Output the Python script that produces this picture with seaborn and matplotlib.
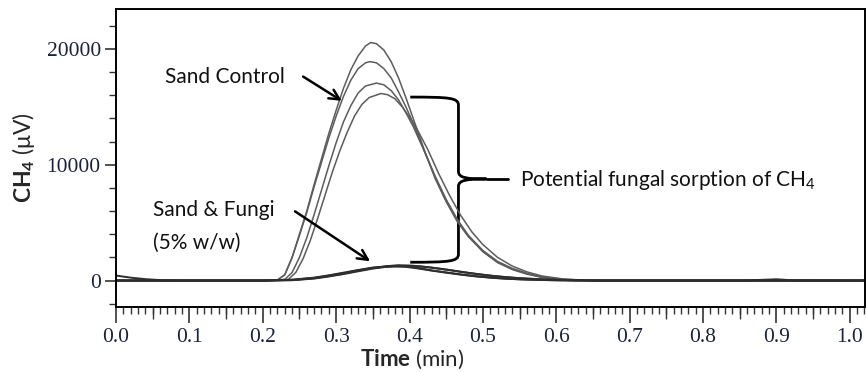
import numpy as np
import pandas as pd
import matplotlib
matplotlib.use("Agg")
import matplotlib.pyplot as plt
from matplotlib.path import Path
from matplotlib.patches import PathPatch
import seaborn as sns

# ---------------- data ----------------
ctrl_a_t = [0.0, 0.1, 0.2, 0.22, 0.23, 0.24, 0.25, 0.26, 0.27, 0.28, 0.29, 0.30, 0.31, 0.32, 0.33, 0.34,
            0.347, 0.355, 0.365, 0.375, 0.385, 0.395, 0.405, 0.42, 0.435, 0.45, 0.465, 0.48, 0.50,
            0.52, 0.54, 0.56, 0.58, 0.61, 0.65, 0.8, 1.02]
ctrl_a_y = [0, 0, 0, 50, 500, 2000, 4000, 6000, 8300, 10500, 12700, 14700, 16600, 18200, 19400, 20250,
            20550, 20450, 19900, 18900, 17500, 15800, 14000, 11300, 8800, 6800, 5100, 3800, 2500,
            1600, 1000, 600, 300, 100, 0, 0, 0]

ctrl_b_t = [0.0, 0.1, 0.2, 0.22, 0.23, 0.24, 0.25, 0.26, 0.27, 0.28, 0.29, 0.30, 0.31, 0.32, 0.33, 0.34,
            0.346, 0.355, 0.365, 0.375, 0.385, 0.395, 0.405, 0.42, 0.435, 0.45, 0.465, 0.48, 0.50,
            0.52, 0.54, 0.56, 0.58, 0.61, 0.65, 0.8, 1.02]
ctrl_b_y = [0, 0, 0, 50, 500, 2000, 3900, 5900, 8100, 10200, 12300, 14200, 15900, 17300, 18300, 18800,
            18900, 18800, 18300, 17500, 16300, 15000, 13600, 11200, 8900, 6900, 5200, 3900, 2600,
            1650, 1050, 620, 320, 100, 0, 0, 0]

ctrl_c_t = [0.0, 0.1, 0.21, 0.23, 0.24, 0.25, 0.26, 0.27, 0.28, 0.29, 0.30, 0.31, 0.32, 0.33, 0.34,
            0.355, 0.365, 0.375, 0.385, 0.395, 0.405, 0.42, 0.435, 0.45, 0.465, 0.48, 0.50,
            0.52, 0.54, 0.56, 0.58, 0.61, 0.65, 0.8, 1.02]
ctrl_c_y = [0, 0, 0, 100, 700, 2000, 3700, 5700, 7800, 9900, 11900, 13700, 15100, 16200, 16800,
            17050, 16900, 16400, 15600, 14500, 13300, 11200, 9000, 7000, 5300, 3900, 2500,
            1550, 950, 550, 280, 80, 0, 0, 0]

ctrl_d_t = [0.0, 0.1, 0.21, 0.235, 0.245, 0.255, 0.265, 0.275, 0.285, 0.295, 0.305, 0.315, 0.325, 0.335,
            0.345, 0.361, 0.37, 0.38, 0.39, 0.40, 0.41, 0.425, 0.44, 0.455, 0.47, 0.485, 0.50,
            0.52, 0.54, 0.56, 0.58, 0.61, 0.65, 0.8, 1.02]
ctrl_d_y = [0, 0, 0, 100, 700, 1900, 3500, 5400, 7400, 9400, 11200, 12800, 14200, 15200,
            15800, 16150, 16050, 15700, 15000, 14100, 13100, 11300, 9200, 7300, 5600, 4200, 3100,
            2000, 1250, 750, 400, 130, 0, 0, 0]

fungi_a_t = [0.0, 0.1, 0.2, 0.24, 0.27, 0.29, 0.31, 0.33, 0.35, 0.37, 0.385, 0.40, 0.415, 0.43,
             0.45, 0.47, 0.49, 0.51, 0.53, 0.55, 0.58, 0.62, 0.66, 0.8, 1.02]
fungi_a_y = [0, 0, 0, 40, 200, 380, 600, 850, 1080, 1250, 1320, 1300, 1230, 1120,
             950, 760, 580, 420, 300, 200, 100, 30, 0, 0, 0]

fungi_b_t = [0.0, 0.1, 0.2, 0.24, 0.27, 0.29, 0.31, 0.33, 0.35, 0.37, 0.385, 0.40, 0.415, 0.43,
             0.45, 0.47, 0.49, 0.51, 0.53, 0.55, 0.58, 0.62, 0.66, 0.8, 1.02]
fungi_b_y = [0, 0, 0, 60, 230, 420, 640, 880, 1100, 1240, 1280, 1200, 1050, 880,
             700, 530, 380, 260, 170, 110, 50, 10, 0, 0, 0]

fungi_c_t = [0.0, 0.1, 0.2, 0.24, 0.27, 0.29, 0.31, 0.33, 0.35, 0.37, 0.395, 0.41, 0.425, 0.44,
             0.46, 0.48, 0.50, 0.52, 0.54, 0.56, 0.59, 0.63, 0.67, 0.85, 0.88, 0.90, 0.92, 1.02]
fungi_c_y = [0, 0, 0, 30, 170, 350, 560, 800, 1030, 1200, 1260, 1230, 1150, 1030,
             850, 660, 500, 360, 250, 170, 80, 20, 0, 0, 60, 110, 30, 0]

fungi_d_t = [0.0, 0.02, 0.04, 0.06, 0.09, 0.2, 0.24, 0.27, 0.29, 0.31, 0.33, 0.35, 0.38, 0.395,
             0.41, 0.43, 0.45, 0.47, 0.49, 0.51, 0.53, 0.56, 0.60, 0.64, 0.8, 1.02]
fungi_d_y = [430, 250, 120, 40, 0, 0, 70, 250, 450, 680, 910, 1120, 1220, 1180,
             1060, 860, 680, 510, 360, 250, 160, 80, 20, 0, 0, 0]

control_runs = {"Control 1": (ctrl_a_t, ctrl_a_y), "Control 2": (ctrl_b_t, ctrl_b_y),
                "Control 3": (ctrl_c_t, ctrl_c_y), "Control 4": (ctrl_d_t, ctrl_d_y)}
fungi_runs = {"Fungi 1": (fungi_a_t, fungi_a_y), "Fungi 2": (fungi_b_t, fungi_b_y),
              "Fungi 3": (fungi_c_t, fungi_c_y), "Fungi 4": (fungi_d_t, fungi_d_y)}

y_ticks = [0, 10000, 20000]
x_ticks = [0.0, 0.1, 0.2, 0.3, 0.4, 0.5, 0.6, 0.7, 0.8, 0.9, 1.0]


def to_frame(runs):
    return pd.concat([pd.DataFrame({"time": t, "signal": y, "run": name})
                      for name, (t, y) in runs.items()], ignore_index=True)


df_ctrl = to_frame(control_runs)
df_fungi = to_frame(fungi_runs)

# ---------------- style ----------------
sns.set_style("ticks")
plt.rcParams["font.family"] = ["Lato", "DejaVu Sans"]
plt.rcParams["mathtext.fontset"] = "custom"
plt.rcParams["mathtext.rm"] = "Lato"
plt.rcParams["mathtext.it"] = "Lato:italic"
plt.rcParams["mathtext.bf"] = "Lato:bold"

fig = plt.figure(figsize=(8.66, 3.73), dpi=100)
ax = fig.add_axes([0.134, 0.178, 0.865, 0.798])

sns.lineplot(data=df_ctrl, x="time", y="signal", units="run", estimator=None, sort=False,
             color="#5c5c5c", linewidth=1.1, ax=ax, legend=False)
sns.lineplot(data=df_fungi, x="time", y="signal", units="run", estimator=None, sort=False,
             color="#2e2e2e", linewidth=1.4, ax=ax, legend=False)

ax.set_xlim(0, 1.021)
ax.set_ylim(-2250, 23450)

for s in ax.spines.values():
    s.set_color("black")
    s.set_linewidth(1.4)

tick_font = dict(family="Liberation Serif", size=15.5)
ax.set_xticks(x_ticks)
ax.set_xticklabels([f"{v:.1f}" for v in x_ticks], fontdict=tick_font, color="#1c2140")
ax.set_xticks(np.arange(0, 1.021, 0.01), minor=True)
ax.set_yticks(y_ticks)
ax.set_yticklabels([str(v) for v in y_ticks], fontdict=tick_font, color="#1c2140")
ax.set_yticks(np.arange(-2000, 23000, 2000), minor=True)

ax.tick_params(axis="x", which="major", direction="out", length=11.5, width=1.2, pad=4, color="#333")
ax.tick_params(axis="x", which="minor", direction="out", length=5, width=1.0, color="#333")
ax.tick_params(axis="y", which="major", direction="out", length=8, width=1.2, pad=3, color="#333")
ax.tick_params(axis="y", which="minor", direction="out", length=5, width=1.0, color="#333")

# medium ticks at the half-tenths
sec = ax.secondary_xaxis("bottom")
sec.set_xticks(np.arange(0.05, 1.0, 0.1))
sec.set_xticklabels([])
sec.tick_params(axis="x", direction="out", length=8.5, width=1.0, color="#333")
sec.spines["bottom"].set_visible(False)

ax.set_xlabel(r"$\mathbf{Time}$ (min)", fontsize=16)
ax.xaxis.set_label_coords(0.395, -0.178)
ax.xaxis.label.set_verticalalignment("center")
ax.set_ylabel(r"$\mathbf{CH_4}$ (μV)", fontsize=16.5)
ax.yaxis.set_label_coords(-0.123, 0.5)
ax.yaxis.label.set_verticalalignment("center")

# ---------------- annotations ----------------
txt = dict(fontsize=15, color="#111111", va="center", ha="left")
ax.text(0.0668, 17585, "Sand Control", **txt)
ax.text(0.0504, 6120, "Sand & Fungi", **txt)
ax.text(0.0504, 3280, "(5% w/w)", **txt)
ax.text(0.5508, 8706, r"Potential fungal sorption of CH$_4$", **txt)

arrow = dict(arrowstyle="->", lw=1.8, color="black", mutation_scale=18, shrinkA=0, shrinkB=0)
ax.annotate("", xy=(0.3077, 15516), xytext=(0.255, 17610), arrowprops=arrow)
ax.annotate("", xy=(0.3463, 1664), xytext=(0.244, 5974), arrowprops=arrow)

# curly brace
x_end, x_bar, x_tip, x_line = 0.401, 0.4667, 0.505, 0.534
y_top, y_bot, y_mid = 15840, 1580, 8770
verts = [
    (x_end, y_top), (x_bar - 0.012, y_top), (x_bar, y_top - 60), (x_bar, y_top - 700),
    (x_bar, y_mid + 650),
    (x_bar, y_mid + 80), (x_bar + 0.012, y_mid), (x_tip, y_mid),
    (x_bar + 0.012, y_mid), (x_bar, y_mid - 80), (x_bar, y_mid - 650),
    (x_bar, y_bot + 700),
    (x_bar, y_bot + 60), (x_bar - 0.012, y_bot), (x_end, y_bot),
]
codes = [Path.MOVETO, Path.CURVE4, Path.CURVE4, Path.CURVE4,
         Path.LINETO,
         Path.CURVE4, Path.CURVE4, Path.CURVE4,
         Path.CURVE4, Path.CURVE4, Path.CURVE4,
         Path.LINETO,
         Path.CURVE4, Path.CURVE4, Path.CURVE4]
ax.add_patch(PathPatch(Path(verts, codes), fill=False, lw=2.0, color="black", transform=ax.transData))
ax.plot([x_tip, x_line], [y_mid, y_mid], color="black", lw=2.0)

fig.savefig("out.png", dpi=100)
